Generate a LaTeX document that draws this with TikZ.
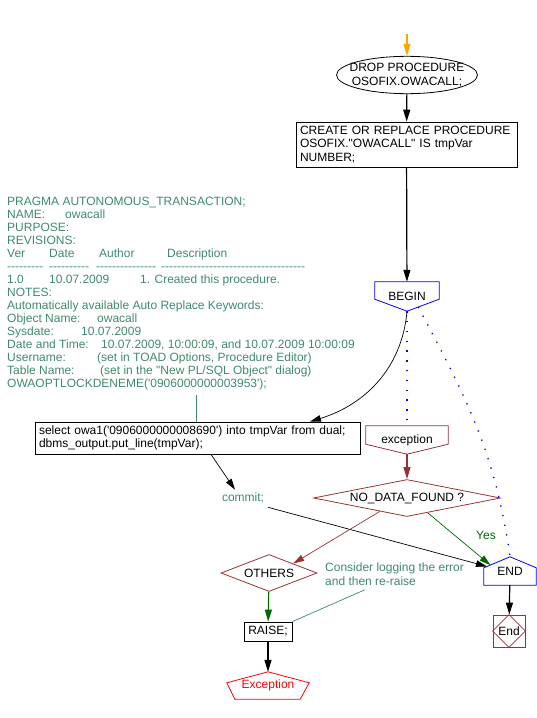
\documentclass[tikz,border=0pt]{standalone}
\usepackage{fontspec}
\setmainfont{Liberation Sans}[Ligatures=TeXOff]
\usetikzlibrary{arrows.meta,positioning,calc,shapes.geometric}

\definecolor{flowred}{HTML}{993333}
\definecolor{flowgreen}{HTML}{006600}
\definecolor{notegreen}{HTML}{3F8A6A}
\definecolor{flowblue}{HTML}{0000FF}
\definecolor{excred}{HTML}{FF0000}
\definecolor{floworange}{HTML}{FFA500}

% tab stop inside the comment block
\newcommand{\tabcol}[2]{\makebox[#1pt][l]{#2}}

\begin{document}
\begin{tikzpicture}[x=1pt, y=-1pt,
  font=\fontsize{12}{13.5}\selectfont,
  box/.style={draw, line width=0.8pt, align=left, inner xsep=4pt, inner ysep=2pt},
  lbl/.style={inner sep=0pt, align=center},
  note/.style={text=notegreen, align=left, inner sep=0pt},
  ar/.style={-{Triangle[length=12pt,width=7pt]}, line width=1.2pt},
  thinar/.style={-{Triangle[length=11pt,width=6.5pt]}, line width=0.7pt},
  noteline/.style={draw=notegreen, line width=0.7pt},
  dotline/.style={draw=flowblue, line width=1.3pt, dash pattern=on 1.3pt off 8.5pt}
]
\useasboundingbox (0,0) rectangle (537,718);

% main flow
\coordinate (start) at (407,34);
\node[ellipse, draw, line width=0.8pt, inner xsep=-7.5pt, inner ysep=1.5pt,
      align=center] (drop) at (407,75)
     {DROP PROCEDURE\\OSOFIX.OWACALL;};
\node[box, text width=213, minimum height=45] (create) at (406.5,144.5)
     {CREATE OR REPLACE PROCEDURE\\OSOFIX."OWACALL" IS tmpVar\\NUMBER;};
\node[lbl, minimum width=64, minimum height=29] (begin) at (407,296.5) {BEGIN};
\draw[flowblue, line width=0.8pt] (begin.north west) -- (begin.north east)
     -- ([yshift=12pt]begin.south east) -- (begin.south)
     -- ([yshift=12pt]begin.south west) -- cycle;

\node[note, anchor=north west, font=\fontsize{12}{13}\selectfont] (pragma) at (7,197)
     {PRAGMA AUTONOMOUS\_TRANSACTION;\\
      \tabcol{58}{NAME:}owacall\\
      PURPOSE:\\
      REVISIONS:\\
      \tabcol{42}{Ver}\tabcol{50}{Date}\tabcol{68}{Author}Description\\
      \tabcol{42}{---------}\tabcol{47}{----------}\tabcol{65}{---------------}------------------------------------\\
      \tabcol{42}{1.0}\tabcol{91}{10.07.2009}1. Created this procedure.\\
      NOTES:\\
      Automatically available Auto Replace Keywords:\\
      \tabcol{90}{Object Name:}owacall\\
      \tabcol{74}{Sysdate:}10.07.2009\\
      \tabcol{94}{Date and Time:}10.07.2009, 10:00:09, and 10.07.2009 10:00:09\\
      \tabcol{90}{Username:}(set in TOAD Options, Procedure Editor)\\
      \tabcol{93}{Table Name:}(set in the "New PL/SQL Object" dialog)\\
      OWAOPTLOCKDENEME('0906000000003953');};

\node[box, text width=317, minimum height=32] (sel) at (197.5,438)
     {select owa1('0906000000008690') into tmpVar from dual;\\
      dbms\_output.put\_line(tmpVar);};
\node[note] (commit) at (243,498) {commit;};

% exception part
\node[lbl, minimum width=82, minimum height=28] (exc) at (407,440) {exception};
\draw[flowred, line width=0.8pt] (exc.north west) -- (exc.north east)
     -- ([yshift=10pt]exc.south east) -- (exc.south)
     -- ([yshift=10pt]exc.south west) -- cycle;
\node[diamond, draw=flowred, line width=0.8pt, aspect=5, inner sep=0pt,
      minimum width=187, minimum height=37] (ndf) at (407,498) {NO\_DATA\_FOUND ?};
\node[diamond, draw=flowred, line width=0.8pt, aspect=2.6, inner sep=0pt,
      minimum width=96, minimum height=37] (others) at (269,573) {OTHERS};
\node[box, align=center, minimum width=48, minimum height=19, inner sep=0pt] (raise)
     at (268,631.5) {RAISE;};
\node[lbl, text=excred, minimum width=82, minimum height=27] (raised) at (268,685.5) {Exception};
\draw[excred, line width=0.8pt] (raised.north) -- ([yshift=-11pt]raised.north east)
     -- ([xshift=-9pt]raised.south east) -- ([xshift=8pt]raised.south west)
     -- ([yshift=-11pt]raised.north west) -- cycle;
\node[note, anchor=north west] (consider) at (325,563)
     {Consider logging the error\\and then re-raise};

% end part
\node[lbl, minimum width=52, minimum height=28] (finish) at (510,571) {END};
\coordinate (finish roof) at ([yshift=-11pt]finish.north west);
\draw[flowblue, line width=0.8pt] (finish.north) -- ([yshift=-11pt]finish.north east)
     -- (finish.south east) -- (finish.south west) -- (finish roof) -- cycle;
\node[draw=flowred, line width=0.8pt, minimum size=32, inner sep=0pt] (stop) at (509,631) {End};
\draw[flowred, line width=0.8pt] (stop.north) -- (stop.east) -- (stop.south) -- (stop.west) -- cycle;
\node[text=flowgreen, lbl] (yes) at (486,535) {Yes};

% connectors
\draw[ar, floworange] (start) -- (drop);
\draw[ar] (drop) -- (create);
\draw[ar] (create) -- (begin);
\draw[thinar] (begin.south) to[out=-95, in=17] ([xshift=112.5pt]sel.north);
\draw[dotline] (begin.south) -- (exc.north);
\draw[dotline] ($(begin.south)!0.35!([yshift=12pt]begin.south east)$)
     to[out=-62, in=98] (finish.north);
\coordinate (pragma foot) at ($(pragma.south west)+(189,5)$);
\draw[noteline] (pragma foot) -- (pragma foot |- sel.north);
\draw[thinar] ([xshift=13.5pt]sel.south) -- ($(commit.north)+(-8,-3)$);
\draw[thinar] ($(commit.south east)+(4,4)$) -- ($(finish roof)!0.12!(finish.north)$);
\draw[ar, flowred] (exc) -- (ndf);
\draw[thinar, flowred] ($(ndf.south)!0.29!(ndf.west)$) -- ($(others.north)!0.5!(others.east)$);
\draw[thinar, flowgreen] ($(ndf.south)!0.22!(ndf.east)$) -- ($(finish roof)!0.25!(finish.north)$);
\draw[ar, flowgreen] (others) -- (raise);
\draw[ar] (raise) -- (raised);
\draw[ar] (finish) -- (stop);
\coordinate (consider foot) at ($(consider.south west)+(40,4)$);
\draw[noteline] (consider foot) -- (raise.north east);
\end{tikzpicture}
\end{document}
